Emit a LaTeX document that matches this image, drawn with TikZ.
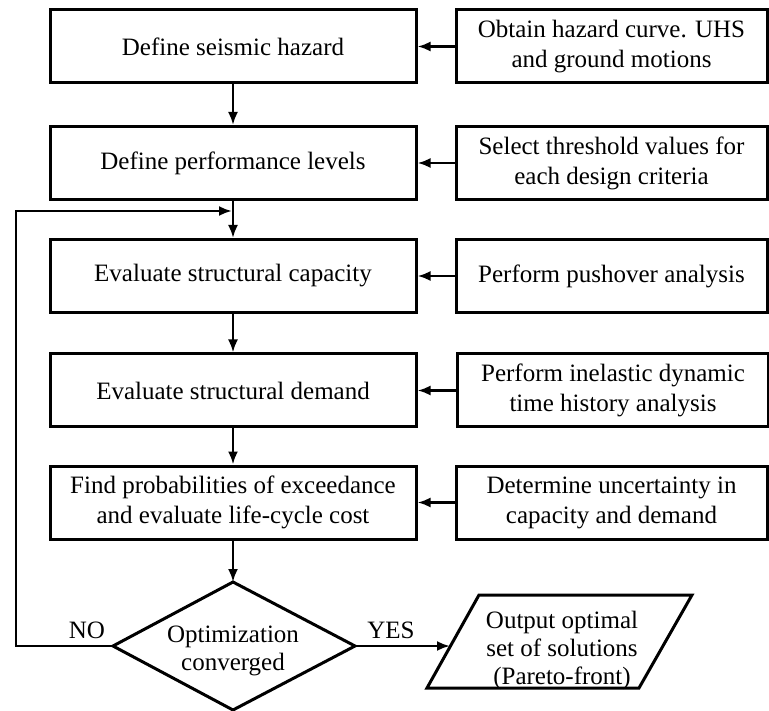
\documentclass[tikz,border=0pt]{standalone}
\usepackage{fontspec}
\setmainfont{Liberation Serif}
\usetikzlibrary{arrows.meta}
\begin{document}
\begin{tikzpicture}[x=1pt,y=-1pt,
  txt/.style={font=\fontsize{25}{30}\selectfont, align=center, inner sep=0pt},
  box/.style={txt, draw, line width=3pt, minimum width=366pt, minimum height=73pt},
  rbox/.style={box, minimum width=311pt},
  shapeline/.style={line width=3pt, line join=miter},
  conn/.style={line width=2.5pt, -{Latex[length=13pt,width=10pt]}},
  lbl/.style={font=\fontsize{25}{30}\selectfont, inner sep=0pt}]
\useasboundingbox (0,0) rectangle (769,711);
% left column
\node[box] (b1) at (233,46.5) {Define seismic hazard};
\node[box] (b2) at (233,163) {Define performance levels};
\node[box] (b3) at (233,276) {Evaluate structural capacity};
\node[box] (b4) at (233,390.5) {Evaluate structural demand};
\node[box] (b5) at (233,502.5) {Find probabilities of exceedance\\and evaluate life-cycle cost};
% right column
\node[rbox] (r1) at (611.5,46.5) {Obtain hazard curve. UHS\\and ground motions};
\node[rbox] (r2) at (611.5,163) {Select threshold values for\\each design criteria};
\node[rbox] (r3) at (611.5,276) {Perform pushover analysis};
\node[rbox] (r4) at (613,390.5) {Perform inelastic dynamic\\time history analysis};
\node[rbox] (r5) at (611.5,502.5) {Determine uncertainty in\\capacity and demand};
% diamond
\coordinate (dt) at (233,582);
\coordinate (dl) at (113,646);
\coordinate (dr) at (355,646);
\coordinate (db) at (233,710);
\draw[shapeline] (dt) -- (dr) -- (db) -- (dl) -- cycle;
\node[txt, font=\fontsize{25}{28}\selectfont] (dtext) at (233,651) {Optimization\\converged};
% parallelogram
\coordinate (p1) at (479,595);
\coordinate (p2) at (692,595);
\coordinate (p3) at (639,688);
\coordinate (p4) at (427,688);
\draw[shapeline] (p1) -- (p2) -- (p3) -- (p4) -- cycle;
\node[txt, font=\fontsize{25}{28}\selectfont] (out) at (562,650) {Output optimal\\set of solutions\\(Pareto-front)};
\coordinate (pin) at (450,646);
% labels
\node[lbl] (no) at (87,630) {NO};
\node[lbl] (yes) at (391,630) {YES};
% connectors
\draw[conn] (b1.south) -- (b2.north);
\draw[conn] (b2.south) -- (b3.north);
\draw[conn] (b3.south) -- (b4.north);
\draw[conn] (b4.south) -- (b5.north);
\draw[conn] (b5.south) -- (dt);
\foreach \i in {1,...,5} { \draw[conn] (r\i.west) -- (b\i.east |- r\i.west); }
\coordinate (fb) at (232,211);
\coordinate (fbc) at (16,646);
\draw[conn] (dl) -- (fbc) |- (fb);
\draw[conn] (dr) -- (pin);
\end{tikzpicture}
\end{document}
